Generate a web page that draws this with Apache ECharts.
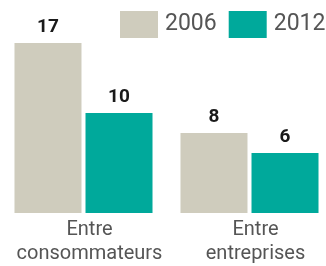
<!DOCTYPE html>
<html>
<head>
<meta charset="utf-8">
<script src="https://cdn.jsdelivr.net/npm/echarts@6/dist/echarts.min.js"></script>
<style>
  html, body { margin: 0; padding: 0; background: #fff; overflow: hidden; }
  #chart { width: 326px; height: 266px; }
</style>
</head>
<body>
<div id="chart"></div>
<script>
const categories = ['Entre\nconsommateurs', 'Entre\nentreprises']
const years = ['2006', '2012']
const values2006 = [17, 8]
const values2012 = [10, 6]

const chart = echarts.init(document.getElementById('chart'))

const labelStyle = {
  show: true,
  position: 'top',
  distance: 6,
  fontFamily: 'Roboto',
  fontWeight: 'bold',
  fontSize: 19,
  color: '#1a1a1a',
}

chart.setOption({
  animation: false,
  legend: {
    orient: 'horizontal',
    left: 120,
    top: 11,
    width: 220,
    padding: 0,
    itemWidth: 38,
    itemHeight: 27,
    itemGap: 12,
    icon: 'rect',
    textStyle: { fontFamily: 'Roboto', fontSize: 23, color: '#555', padding: [0, 0, 0, 2] },
    data: years,
  },
  grid: { left: 0.5, top: 13, width: 332, height: 200, outerBoundsMode: 'none' },
  xAxis: {
    type: 'category',
    data: categories,
    axisLine: { show: false },
    axisTick: { show: false },
    axisLabel: {
      interval: 0,
      fontFamily: 'Roboto',
      fontSize: 20,
      lineHeight: 24,
      color: '#555',
      margin: 5,
      padding: [0, 0, 0, 12],
    },
  },
  yAxis: {
    type: 'value',
    min: 0,
    max: 20,
    show: false,
  },
  series: [
    {
      name: years[0],
      type: 'bar',
      data: values2006,
      barWidth: 67,
      barGap: '6%',
      itemStyle: { color: '#cfccbd' },
      label: labelStyle,
    },
    {
      name: years[1],
      type: 'bar',
      data: values2012,
      barWidth: 67,
      itemStyle: { color: '#00a99b' },
      label: labelStyle,
    },
  ],
})
</script>
</body>
</html>
